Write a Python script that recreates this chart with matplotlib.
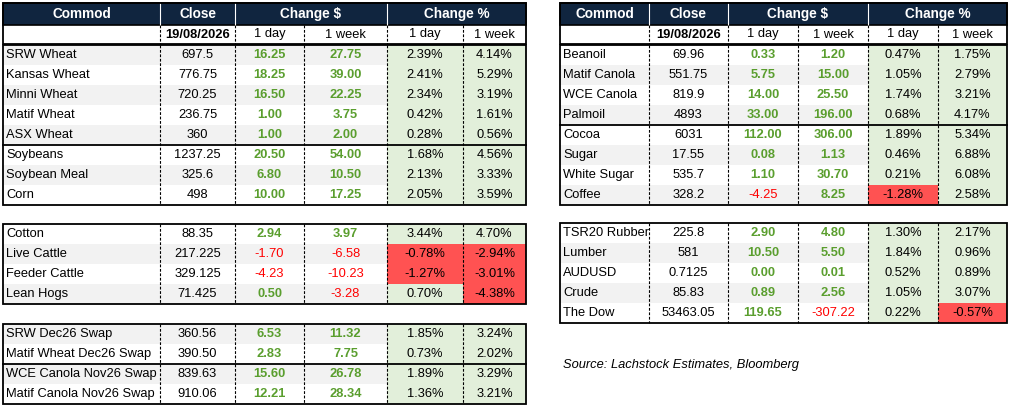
import matplotlib
matplotlib.use("Agg")
import matplotlib.pyplot as plt
from matplotlib.patches import Rectangle

# ---- data ----
left_top_names = ["SRW Wheat","Kansas Wheat","Minni Wheat","Matif Wheat","ASX Wheat","Soybeans","Soybean Meal","Corn"]
left_top_close = ["697.5","776.75","720.25","236.75","360","1237.25","325.6","498"]
left_top_d1 = [16.25,18.25,16.50,1.00,1.00,20.50,6.80,10.00]
left_top_w1 = [27.75,39.00,22.25,3.75,2.00,54.00,10.50,17.25]
left_top_p1 = [2.39,2.41,2.34,0.42,0.28,1.68,2.13,2.05]
left_top_pw = [4.14,5.29,3.19,1.61,0.56,4.56,3.33,3.59]

left_mid_names = ["Cotton","Live Cattle","Feeder Cattle","Lean Hogs"]
left_mid_close = ["88.35","217.225","329.125","71.425"]
left_mid_d1 = [2.94,-1.70,-4.23,0.50]
left_mid_w1 = [3.97,-6.58,-10.23,-3.28]
left_mid_p1 = [3.44,-0.78,-1.27,0.70]
left_mid_pw = [4.70,-2.94,-3.01,-4.38]

left_bot_names = ["SRW Dec26 Swap","Matif Wheat Dec26 Swap","WCE Canola Nov26 Swap","Matif Canola Nov26 Swap"]
left_bot_close = ["360.56","390.50","839.63","910.06"]
left_bot_d1 = [6.53,2.83,15.60,12.21]
left_bot_w1 = [11.32,7.75,26.78,28.34]
left_bot_p1 = [1.85,0.73,1.89,1.36]
left_bot_pw = [3.24,2.02,3.29,3.21]

right_top_names = ["Beanoil","Matif Canola","WCE Canola","Palmoil","Cocoa","Sugar","White Sugar","Coffee"]
right_top_close = ["69.96","551.75","819.9","4893","6031","17.55","535.7","328.2"]
right_top_d1 = [0.33,5.75,14.00,33.00,112.00,0.08,1.10,-4.25]
right_top_w1 = [1.20,15.00,25.50,196.00,306.00,1.13,30.70,8.25]
right_top_p1 = [0.47,1.05,1.74,0.68,1.89,0.46,0.21,-1.28]
right_top_pw = [1.75,2.79,3.21,4.17,5.34,6.88,6.08,2.58]

right_bot_names = ["TSR20 Rubber","Lumber","AUDUSD","Crude","The Dow"]
right_bot_close = ["225.8","581","0.7125","85.83","53463.05"]
right_bot_d1 = [2.90,10.50,0.00,0.89,119.65]
right_bot_w1 = [4.80,5.50,0.01,2.56,-307.22]
right_bot_p1 = [1.30,1.84,0.52,1.05,0.22]
right_bot_pw = [2.17,0.96,0.89,3.07,-0.57]

date_label = "19/08/2026"
source = "Source: Lachstock Estimates, Bloomberg"

# ---- style ----
NAVY = "#10253f"; GRAY = "#f2f2f2"; GFILL = "#e2efda"; RFILL = "#ff5252"
GTXT = "#5a9e2e"; RTXT = "#ff0000"
FONT = "Liberation Sans"; FS = 9.3
RH = 20

fig = plt.figure(figsize=(10.11, 4.09), dpi=100)
ax = fig.add_axes([0, 0, 1, 1])
ax.set_xlim(0, 1011); ax.set_ylim(409, 0); ax.axis("off")

def txt(x, y, s, **kw):
    kw.setdefault("fontsize", FS); kw.setdefault("family", FONT)
    ax.text(x, y, s, va="center", **kw)

def vlines(cols, y0, y1):
    for x in cols[1:-1]:
        ax.plot([x, x], [y0, y1], color="black", lw=0.8, ls=(0, (2.5, 1.5)))

def box(cols, y0, y1):
    ax.add_patch(Rectangle((cols[0], y0), cols[-1]-cols[0], y1-y0, fill=False, ec="black", lw=1.3, zorder=5))

def header(cols, y):
    ax.add_patch(Rectangle((cols[0], y), cols[-1]-cols[0], 22, fc=NAVY, ec="black", lw=1.2))
    for (a, b, s) in [(cols[0], cols[1], "Commod"), (cols[1], cols[2], "Close"),
                      (cols[2], cols[4], "Change $"), (cols[4], cols[6], "Change %")]:
        txt((a+b)/2, y+11, s, color="white", weight="bold", ha="center", fontsize=9.8)
    for x in (cols[1], cols[2], cols[4]):
        ax.plot([x, x], [y, y+22], color="white", lw=0.8)
    ys = y+22
    txt((cols[1]+cols[2])/2, ys+9.5, date_label, weight="bold", ha="center")
    for i, s in zip(range(2, 6), ["1 day", "1 week", "1 day", "1 week"]):
        txt((cols[i]+cols[i+1])/2, ys+9.5, s, ha="center")
    vlines(cols, ys, ys+19)
    return ys+19

def block(cols, y0, names, close, d1, w1, p1, pw, gray_first, splits=()):
    for i in range(len(names)):
        y = y0 + i*RH
        if (i % 2 == 0) == gray_first:
            ax.add_patch(Rectangle((cols[0], y), cols[4]-cols[0], RH, fc=GRAY, ec="none"))
        for j, v in ((4, p1[i]), (5, pw[i])):
            ax.add_patch(Rectangle((cols[j], y), cols[j+1]-cols[j], RH, fc=GFILL if v >= 0 else RFILL, ec="none"))
            txt((cols[j]+cols[j+1])/2, y+RH/2, f"{v:.2f}%", ha="center")
        txt(cols[0]+3, y+RH/2, names[i])
        txt((cols[1]+cols[2])/2, y+RH/2, close[i], ha="center")
        for j, v in ((2, d1[i]), (3, w1[i])):
            pos = v >= 0
            txt((cols[j]+cols[j+1])/2, y+RH/2, f"{v:.2f}", ha="center",
                color=GTXT if pos else RTXT, weight="bold" if pos else "normal")
    y1 = y0 + len(names)*RH
    vlines(cols, y0, y1)
    box(cols, y0, y1)
    for s in splits:
        ax.plot([cols[0], cols[-1]], [y0+s*RH]*2, color="black", lw=1.3, zorder=5)

L = [3, 160, 235, 304, 387, 463, 526]
R = [560, 649, 728, 798, 868, 938, 1007]

yl = header(L, 3)
box(L, 3, yl)
block(L, yl+1, left_top_names, left_top_close, left_top_d1, left_top_w1, left_top_p1, left_top_pw, True, splits=(5,))
block(L, 224, left_mid_names, left_mid_close, left_mid_d1, left_mid_w1, left_mid_p1, left_mid_pw, False)
block(L, 324, left_bot_names, left_bot_close, left_bot_d1, left_bot_w1, left_bot_p1, left_bot_pw, True, splits=(2,))

yr = header(R, 3)
box(R, 3, yr)
block(R, yr+1, right_top_names, right_top_close, right_top_d1, right_top_w1, right_top_p1, right_top_pw, False, splits=(4,))
block(R, 223, right_bot_names, right_bot_close, right_bot_d1, right_bot_w1, right_bot_p1, right_bot_pw, False)

txt(563, 365, source, style="italic")

fig.savefig("out.png", dpi=100, facecolor="white")
